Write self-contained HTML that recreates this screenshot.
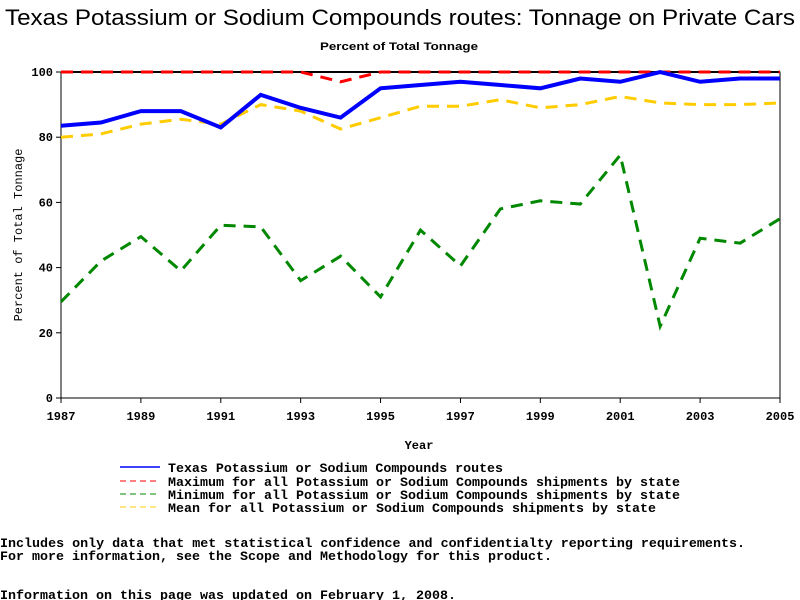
<!DOCTYPE html>
<html><head><meta charset="utf-8"><style>
body{margin:0;background:#fff;width:800px;height:600px;overflow:hidden;position:relative;font-family:"Liberation Mono",monospace}
svg{position:absolute;left:0;top:0}
</style></head><body>
<svg width="800" height="600" id="s">
<text x="5" y="25" textLength="790" lengthAdjust="spacingAndGlyphs" font-family="Liberation Sans,sans-serif" font-size="22">Texas Potassium or Sodium Compounds routes: Tonnage on Private Cars</text>
<text x="320" y="50" textLength="158" lengthAdjust="spacingAndGlyphs" font-family="Liberation Sans,sans-serif" font-size="11" font-weight="bold">Percent of Total Tonnage</text>
<text x="419" y="449" text-anchor="middle" font-size="12" font-weight="bold">Year</text>
<text transform="translate(22,235) rotate(-90)" text-anchor="middle" font-size="12">Percent of Total Tonnage</text>
<g id="plot"></g>
<g font-size="13" font-weight="bold">
<line x1="120" y1="467" x2="160" y2="467" stroke="#00f" stroke-width="1.5"/>
<text x="168" y="472" textLength="335" lengthAdjust="spacingAndGlyphs">Texas Potassium or Sodium Compounds routes</text>
<line x1="120" y1="481" x2="160" y2="481" stroke="#f00" stroke-dasharray="6,4"/>
<text x="168" y="486" textLength="512" lengthAdjust="spacingAndGlyphs">Maximum for all Potassium or Sodium Compounds shipments by state</text>
<line x1="120" y1="494" x2="160" y2="494" stroke="#080" stroke-dasharray="6,4"/>
<text x="168" y="499" textLength="512" lengthAdjust="spacingAndGlyphs">Minimum for all Potassium or Sodium Compounds shipments by state</text>
<line x1="120" y1="507" x2="160" y2="507" stroke="#fc0" stroke-dasharray="6,4"/>
<text x="168" y="512" textLength="488" lengthAdjust="spacingAndGlyphs">Mean for all Potassium or Sodium Compounds shipments by state</text>
</g>
<g font-size="13" font-weight="bold">
<text x="0" y="547" textLength="745" lengthAdjust="spacingAndGlyphs">Includes only data that met statistical confidence and confidentialty reporting requirements.</text>
<text x="0" y="560" textLength="552" lengthAdjust="spacingAndGlyphs">For more information, see the Scope and Methodology for this product.</text>
<text x="0" y="599" textLength="456" lengthAdjust="spacingAndGlyphs">Information on this page was updated on February 1, 2008.</text>
</g>
</svg>
<script>
const years=[1987,1988,1989,1990,1991,1992,1993,1994,1995,1996,1997,1998,1999,2000,2001,2002,2003,2004,2005];
const texas=[83.5,84.5,88,88,83,93,89,86,95,96,97,96,95,98,97,100,97,98,98];
const maxV=[100,100,100,100,100,100,100,97,100,100,100,100,100,100,100,100,100,100,100];
const minV=[29.5,42,49.5,39,53,52.5,36,43.5,31,51.5,40.5,58,60.5,59.5,74.5,22,49,47.5,55];
const meanV=[80,81,84,85.5,84,90,88,82.5,86,89.5,89.5,91.5,89,90,92.5,90.5,90,90,90.5];
const yTicks=[0,20,40,60,80,100];
const xTicks=[1987,1989,1991,1993,1995,1997,1999,2001,2003,2005];
const X0=61,X1=780,Y0=398,Y1=72;
const xs=v=>X0+(v-1987)/(2005-1987)*(X1-X0);
const ys=v=>Y0-v/100*(Y0-Y1);
const g=document.getElementById('plot');const NS='http://www.w3.org/2000/svg';
function mk(t,a){const e=document.createElementNS(NS,t);for(const k in a)e.setAttribute(k,a[k]);g.appendChild(e);return e;}
const fr=mk('rect',{x:X0,y:Y1,width:X1-X0,height:Y0-Y1,fill:'none',stroke:'#000'});


yTicks.forEach(t=>{mk('line',{x1:X0-5,x2:X0,y1:ys(t),y2:ys(t),stroke:'#000'});
const e=mk('text',{x:X0-8,y:ys(t)+4,'text-anchor':'end','font-size':'12','font-weight':'bold'});e.textContent=t;

});
xTicks.forEach(t=>{mk('line',{x1:xs(t),x2:xs(t),y1:Y0,y2:Y0+5,stroke:'#000'});
const e=mk('text',{x:xs(t),y:Y0+22,'text-anchor':'middle','font-size':'12','font-weight':'bold'});e.textContent=t;

});
function series(d,c,w,dash,name){const p=mk('polyline',{points:d.map((v,i)=>xs(years[i])+','+ys(v)).join(' '),fill:'none',stroke:c,'stroke-width':w});
if(dash)p.setAttribute('stroke-dasharray',dash);

}
mk('line',{x1:X0,x2:X1,y1:Y1,y2:Y1,stroke:'#000','stroke-width':2});
series(maxV,'#f00',3,'12,8','max-line');
series(minV,'#080',3,'12,8','min-line');
series(meanV,'#fc0',3,'12,8','mean-line');
series(texas,'#00f',4,null,'texas-line');
</script>
</body></html>
